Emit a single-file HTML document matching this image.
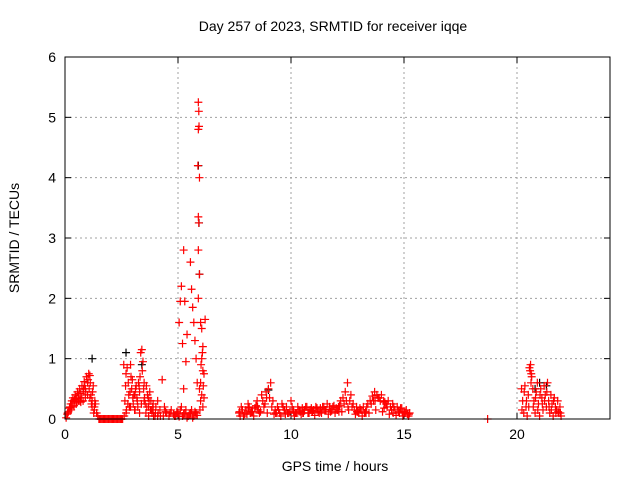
<!DOCTYPE html>
<html><head><meta charset="utf-8"><style>
body{margin:0;background:#fff;}
svg text{font-family:"Liberation Sans",sans-serif;font-size:14px;fill:#000;}
</style></head><body>
<svg id="chart" width="640" height="480">
<text x="333" y="31" text-anchor="middle">Day 257 of 2023, SRMTID for receiver iqqe</text>
<text x="335" y="471" text-anchor="middle">GPS time / hours</text>
<text transform="translate(19,238) rotate(-90)" text-anchor="middle">SRMTID / TECUs</text>
<g id="grid"></g><g id="ticks"></g><g id="marks"></g>
<rect x="65" y="57" width="545" height="362" fill="none" stroke="#000" stroke-width="1"/>
</svg>
<script>
const xTicks=[0,5,10,15,20];
const yTicks=[0,1,2,3,4,5,6];
const redTimes=[0.05,0.1,0.15,0.2,0.25,0.3,0.35,0.4,0.45,0.5,0.55,0.6,0.65,0.7,0.75,0.8,0.85,0.9,0.95,1.0,1.05,1.1,1.15,1.2,1.25,1.3,1.35,1.4,0.3,0.4,0.5,0.6,0.7,0.8,0.9,1.0,1.1,1.2,1.3,
0.12,0.22,0.32,0.42,0.52,0.62,0.72,0.82,0.92,1.02,1.12,1.22,1.32,0.27,0.47,0.67,0.87,1.07,1.17,1.27,
1.45,1.5,1.55,1.6,1.65,1.7,1.75,1.8,1.85,1.9,1.95,2.0,2.05,2.1,2.15,2.2,2.25,2.3,2.35,2.4,2.45,2.5,2.55,
2.6,2.65,2.7,2.75,2.8,2.85,2.9,2.95,3.0,3.05,3.1,3.15,3.2,3.25,3.3,3.35,3.4,3.45,3.5,3.55,3.6,3.65,3.7,3.75,3.8,3.85,3.9,4.0,4.1,4.2,4.3,4.35,4.4,4.5,4.6,4.7,4.8,2.7,2.9,3.1,3.3,3.5,3.7,3.9,4.1,
2.62,2.72,2.82,2.92,3.02,3.12,3.22,3.32,3.42,3.52,3.62,3.72,3.82,3.92,4.02,4.12,4.22,4.45,4.65,4.85,2.68,2.78,2.88,2.98,3.08,3.18,3.28,3.38,3.48,3.58,3.68,3.78,3.88,3.98,
4.9,5.0,5.1,5.2,5.3,5.4,5.5,5.6,5.7,5.8,4.95,5.05,5.15,5.25,5.35,5.45,5.55,5.65,5.75,5.85,
5.05,5.1,5.15,5.25,5.3,5.2,5.35,5.25,5.4,5.55,5.6,5.65,5.7,5.75,5.8,5.85,5.9,5.92,5.93,5.9,5.88,5.95,5.9,5.92,5.9,5.95,5.9,6.0,6.05,6.1,6.05,6.1,6.0,6.05,6.1,5.95,6.15,6.2,6.0,6.02,6.08,6.12,6.15,5.97,
7.7,7.8,7.9,8.0,8.1,8.2,8.3,8.4,8.5,8.6,8.7,8.8,8.9,9.0,9.1,9.2,9.3,9.4,9.5,9.6,9.7,9.8,9.9,10.0,10.1,10.2,10.3,10.4,10.5,10.6,10.7,10.8,10.9,11.0,11.1,11.2,11.3,11.4,11.5,11.6,11.7,11.8,11.9,12.0,12.1,12.2,12.3,12.4,12.5,12.6,12.7,12.8,12.9,13.0,13.1,13.2,13.3,13.4,13.5,13.6,13.7,13.8,13.9,14.0,14.1,14.2,14.3,14.4,14.5,14.6,14.7,14.8,14.9,15.0,15.1,15.2,
7.75,8.05,8.35,8.65,8.95,9.25,9.55,9.85,10.15,10.45,10.75,11.05,11.35,11.65,11.95,12.25,12.55,12.85,13.15,13.45,13.75,14.05,14.35,14.65,14.95,15.25,
7.85,7.95,8.15,8.25,8.45,8.55,8.75,8.85,9.05,9.15,9.35,9.45,9.65,9.75,9.95,10.05,10.25,10.35,10.55,10.65,10.85,10.95,11.15,11.25,11.45,11.55,11.75,11.85,12.05,12.15,12.35,12.45,12.65,12.75,12.95,13.05,13.25,13.35,13.55,13.65,13.85,13.95,14.15,14.25,14.45,14.55,14.75,14.85,15.05,15.15,
7.72,8.12,8.52,8.92,9.32,9.72,10.12,10.52,10.92,11.32,11.72,12.12,12.52,12.92,13.32,13.72,14.12,14.52,14.92,15.22,
18.7,
20.2,20.25,20.3,20.35,20.4,20.45,20.5,20.55,20.6,20.65,20.7,20.75,20.8,20.85,20.9,20.95,21.0,21.05,21.1,21.15,21.2,21.25,21.3,21.35,21.4,21.45,21.5,21.55,21.6,21.65,21.7,21.75,21.8,21.85,21.9,21.95,
20.22,20.32,20.42,20.52,20.62,20.72,20.82,20.92,21.02,21.12,21.22,21.32,21.42,21.52,21.62,21.72,21.82,21.92,20.58,20.63];
const redVals=[0.02,0.08,0.12,0.18,0.25,0.3,0.35,0.28,0.4,0.33,0.45,0.38,0.5,0.42,0.55,0.45,0.62,0.5,0.7,0.6,0.75,0.72,0.4,0.3,0.55,0.2,0.25,0.1,0.2,0.22,0.25,0.3,0.28,0.3,0.35,0.4,0.35,0.2,0.15,
0.1,0.2,0.25,0.32,0.28,0.42,0.35,0.5,0.45,0.65,0.6,0.45,0.3,0.15,0.35,0.3,0.55,0.5,0.25,0.1,
0.05,0,0,0,0,0,0,0,0,0,0,0,0,0,0,0,0,0,0,0,0,0,0,
0.9,0.3,0.75,0.85,0.6,0.2,0.9,0.5,0.35,0.4,0.15,0.55,0.3,0.6,0.45,1.1,1.15,0.95,0.6,0.25,0.55,0.4,0.2,0.45,0.3,0.1,0.25,0.1,0.05,0.15,0.65,0.05,0.2,0.1,0.05,0.15,0.08,0.1,0.2,0.4,0.1,0.3,0.05,0.15,0.3,
0.05,0.15,0.4,0.7,0.25,0.5,0.2,0.7,0.8,0.35,0.2,0.3,0.15,0.05,0.2,0.1,0.05,0.12,0.1,0.05,0.55,0.25,0.45,0.65,0.15,0.35,0.55,0.25,0.5,0.1,0.35,0.15,0.2,0.05,
0.05,0.1,0.15,0.05,0.1,0.02,0.08,0.15,0.05,0.1,0.12,0.04,0.2,0.08,0.15,0.05,0.1,0.02,0.12,0.06,
1.6,1.95,2.2,2.8,1.95,1.25,0.95,0.5,1.4,2.6,2.15,1.85,1.6,1.3,1.0,0.6,5.25,5.1,4.85,4.8,4.2,4.0,3.35,3.25,2.8,2.4,2.0,1.6,1.5,1.2,1.0,0.8,0.6,0.4,0.2,0.5,0.75,1.65,0.3,0.9,1.1,0.55,0.35,0.15,
0.1,0.2,0.05,0.15,0.25,0.1,0.12,0.18,0.3,0.1,0.4,0.2,0.45,0.5,0.6,0.3,0.15,0.2,0.1,0.25,0.15,0.2,0.1,0.3,0.15,0.1,0.2,0.12,0.18,0.15,0.2,0.1,0.18,0.15,0.2,0.12,0.18,0.2,0.15,0.25,0.2,0.15,0.22,0.18,0.2,0.3,0.35,0.45,0.6,0.3,0.2,0.15,0.2,0.1,0.15,0.2,0.12,0.25,0.3,0.38,0.45,0.4,0.35,0.4,0.3,0.25,0.3,0.2,0.25,0.15,0.2,0.1,0.18,0.12,0.15,0.05,
0.05,0.08,0.05,0.12,0.1,0.08,0.05,0.1,0.05,0.08,0.1,0.06,0.1,0.08,0.1,0.12,0.15,0.08,0.05,0.1,0.15,0.12,0.08,0.06,0.05,0.1,
0.15,0.08,0.2,0.12,0.22,0.15,0.3,0.25,0.35,0.2,0.1,0.15,0.2,0.08,0.12,0.2,0.1,0.15,0.1,0.2,0.15,0.12,0.18,0.1,0.2,0.15,0.12,0.2,0.15,0.22,0.25,0.3,0.4,0.25,0.12,0.18,0.1,0.2,0.25,0.3,0.35,0.3,0.28,0.2,0.15,0.2,0.12,0.18,0.1,0.08,
0.12,0.18,0.2,0.35,0.1,0.15,0.12,0.1,0.14,0.12,0.16,0.12,0.2,0.12,0.1,0.3,0.18,0.1,0.12,0.08,
0,
0.5,0.3,0.1,0.55,0.2,0.05,0.4,0.85,0.9,0.7,0.5,0.3,0.1,0.45,0.6,0.25,0.05,0.5,0.35,0.15,0.55,0.4,0.2,0.6,0.3,0.1,0.4,0.25,0.05,0.35,0.2,0.15,0.3,0.1,0.2,0.05,
0.15,0.45,0.3,0.2,0.6,0.2,0.35,0.15,0.4,0.25,0.3,0.45,0.2,0.15,0.3,0.1,0.12,0.1,0.8,0.75];
const blackTimes=[1.2,2.7,3.4,5.9,5.93,5.95,9.0,20.8,21.0,21.3];
const blackVals=[1.0,1.1,0.9,4.2,3.25,2.4,0.48,0.5,0.6,0.55];
const X0=65,X1=610,Y0=419,Y1=57;
const xs=t=>X0+t*22.6;
const ys=v=>Y0-v*(Y0-Y1)/6;
const NS='http://www.w3.org/2000/svg';
const grid=document.getElementById('grid'),ticks=document.getElementById('ticks'),marks=document.getElementById('marks');
function mk(tag,attrs,parent){const e=document.createElementNS(NS,tag);for(const k in attrs)e.setAttribute(k,attrs[k]);parent.appendChild(e);return e;}
xTicks.forEach(t=>{
 const x=xs(t);
 if(t>0){const g=mk('line',{x1:x,x2:x,y1:Y1,y2:Y0,stroke:'#a0a0a0','stroke-dasharray':'2,3'},grid);
 
 }
 mk('line',{x1:x,x2:x,y1:Y0,y2:Y0-6,stroke:'#000'},ticks);
 mk('line',{x1:x,x2:x,y1:Y1,y2:Y1+6,stroke:'#000'},ticks);
 const l=mk('text',{x:x,y:Y0+20,'text-anchor':'middle'},ticks);l.textContent=t;
 
 
});
yTicks.forEach(v=>{
 const y=ys(v);
 if(v>0&&v<6){const g=mk('line',{x1:X0,x2:X1,y1:y,y2:y,stroke:'#a0a0a0','stroke-dasharray':'2,3'},grid);
 
 }
 mk('line',{x1:X0,x2:X0+6,y1:y,y2:y,stroke:'#000'},ticks);
 mk('line',{x1:X1,x2:X1-6,y1:y,y2:y,stroke:'#000'},ticks);
 const l=mk('text',{x:X0-9,y:y+5,'text-anchor':'end'},ticks);l.textContent=v;
 
 
});
function plus(t,v,color,name){
 const x=xs(t),y=ys(v);
 const p=mk('path',{d:`M${x-4},${y}H${x+4}M${x},${y-4}V${y+4}`,stroke:color,'stroke-width':1.2,fill:'none'},marks);
 
 
}
blackTimes.forEach((t,i)=>plus(t,blackVals[i],'#000','black-point'));
redTimes.forEach((t,i)=>plus(t,redVals[i],'#f00','red-point'));
</script>
</body></html>
